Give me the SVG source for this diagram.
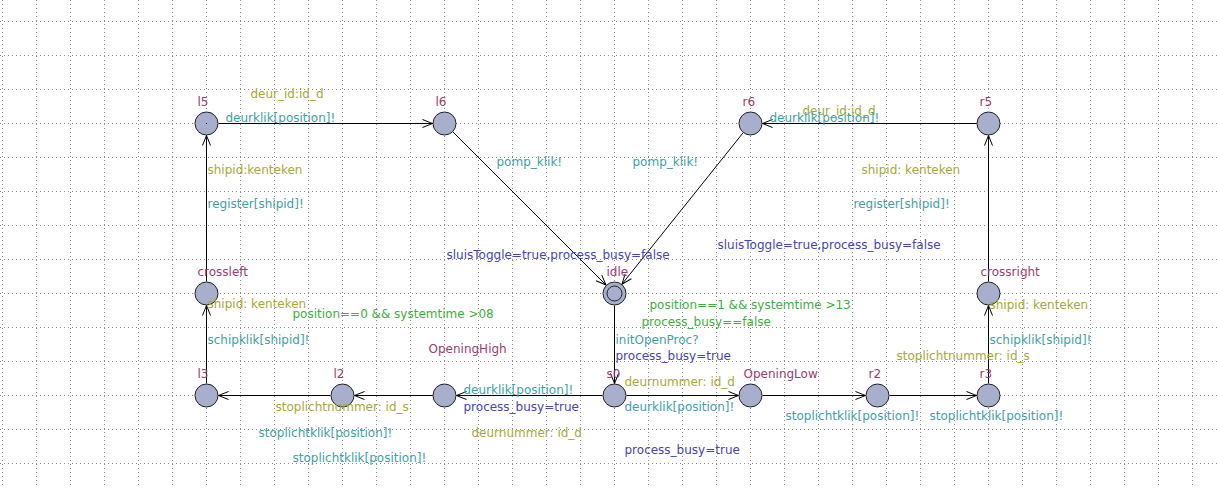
<svg xmlns="http://www.w3.org/2000/svg" width="1217" height="488" viewBox="0 0 1217 488">
<style>
text{font-family:"DejaVu Sans","Liberation Sans",sans-serif;font-size:12px}
.loc{fill:#a7afcc;stroke:#222;stroke-width:1}
.nm{fill:#993d6e}
.sel{fill:#a8a834}
.syn{fill:#3e9fa6}
.upd{fill:#4444b4}
.grd{fill:#3eae3e}
.e{stroke:#000;stroke-width:1;fill:none;marker-end:url(#ah)}
</style>
<defs>
<marker id="ah" markerUnits="userSpaceOnUse" markerWidth="14" markerHeight="12" viewBox="-12 -6 14 12" refX="0" refY="0" orient="auto">
<path d="M-10,-4 L0,0 L-10,4" fill="none" stroke="#000" stroke-width="1"/>
</marker>
</defs>
<rect width="1217" height="488" fill="#fff"/>
<path stroke="#8a8a8a" stroke-width="1" stroke-dasharray="1 3" fill="none" d="M2.5 0V488M36.5 0V488M70.5 0V488M104.5 0V488M138.5 0V488M172.5 0V488M206.5 0V488M240.5 0V488M274.5 0V488M308.5 0V488M342.5 0V488M376.5 0V488M410.5 0V488M444.5 0V488M478.5 0V488M512.5 0V488M546.5 0V488M580.5 0V488M614.5 0V488M648.5 0V488M682.5 0V488M716.5 0V488M750.5 0V488M784.5 0V488M818.5 0V488M852.5 0V488M886.5 0V488M920.5 0V488M954.5 0V488M988.5 0V488M1022.5 0V488M1056.5 0V488M1090.5 0V488M1124.5 0V488M1158.5 0V488M1192.5 0V488M0 21.5H1217M0 55.5H1217M0 89.5H1217M0 123.5H1217M0 157.5H1217M0 191.5H1217M0 225.5H1217M0 259.5H1217M0 293.5H1217M0 327.5H1217M0 361.5H1217M0 395.5H1217M0 429.5H1217M0 463.5H1217"/>
<g transform="translate(0.5 0.5)">
<g id="connectors">
<path class="e" d="M218,123H432"/>
<path class="e" d="M206,281V135"/>
<path class="e" d="M452.5,131.5L605.5,284.5"/>
<path class="e" d="M742.5,132.4L621.5,283.6"/>
<path class="e" d="M976,123H762"/>
<path class="e" d="M988,281V135"/>
<path class="e" d="M614,305V383"/>
<path class="e" d="M602,395H456"/>
<path class="e" d="M432,395H354"/>
<path class="e" d="M330,395H218"/>
<path class="e" d="M206,383V305"/>
<path class="e" d="M626,395H738"/>
<path class="e" d="M762,395H865"/>
<path class="e" d="M889,395H976"/>
<path class="e" d="M988,383V305"/>
</g>
<g id="l5"><circle class="loc" cx="206" cy="123" r="11.5"/><rect x="205.5" y="122.5" width="1" height="1" fill="#222"/><text class="nm" x="197" y="105">l5</text></g>
<g id="l6"><circle class="loc" cx="444" cy="123" r="11.5"/><text class="nm" x="435" y="105">l6</text></g>
<g id="r6"><circle class="loc" cx="750" cy="123" r="11.5"/><text class="nm" x="742" y="105">r6</text></g>
<g id="r5"><circle class="loc" cx="988" cy="123" r="11.5"/><text class="nm" x="979" y="105">r5</text></g>
<g id="crossleft"><circle class="loc" cx="206" cy="293" r="11.5"/><text class="nm" x="197" y="275">crossleft</text></g>
<g id="idle"><circle class="loc" cx="614" cy="293" r="11.5"/><circle class="loc" cx="614" cy="293" r="7.5"/><text class="nm" x="606" y="275">idle</text></g>
<g id="crossright"><circle class="loc" cx="988" cy="293" r="11.5"/><text class="nm" x="980" y="275">crossright</text></g>
<g id="l3"><circle class="loc" cx="206" cy="395" r="11.5"/><text class="nm" x="197" y="377">l3</text></g>
<g id="l2"><circle class="loc" cx="342" cy="395" r="11.5"/><text class="nm" x="333" y="377">l2</text></g>
<g id="OpeningHigh"><circle class="loc" cx="444" cy="395" r="11.5"/><text class="nm" x="428" y="352">OpeningHigh</text></g>
<g id="s0"><circle class="loc" cx="614" cy="395" r="11.5"/><text class="nm" x="606" y="377">s0</text></g>
<g id="OpeningLow"><circle class="loc" cx="750" cy="395" r="11.5"/><text class="nm" x="743" y="377">OpeningLow</text></g>
<g id="r2"><circle class="loc" cx="877" cy="395" r="11.5"/><text class="nm" x="868" y="377">r2</text></g>
<g id="r3"><circle class="loc" cx="988" cy="395" r="11.5"/><text class="nm" x="979" y="377">r3</text></g>
<g id="labels">
<text class="sel" x="250" y="97">deur_id:id_d</text>
<text class="syn" x="225" y="121">deurklik[position]!</text>
<text class="sel" x="207" y="173">shipid:kenteken</text>
<text class="syn" x="207" y="207">register[shipid]!</text>
<text class="syn" x="496" y="165">pomp_klik!</text>
<text class="syn" x="632" y="165">pomp_klik!</text>
<text class="sel" x="802" y="114">deur_id:id_d</text>
<text class="syn" x="769" y="121">deurklik[position]!</text>
<text class="sel" x="861" y="173">shipid: kenteken</text>
<text class="syn" x="853" y="207">register[shipid]!</text>
<text class="upd" x="717" y="248">sluisToggle=true,process_busy=false</text>
<text class="upd" x="446" y="258">sluisToggle=true,process_busy=false</text>
<text class="sel" x="207" y="307">shipid: kenteken</text>
<text class="grd" x="292" y="317">position==0 &amp;&amp; systemtime &gt;08</text>
<text class="syn" x="207" y="343">schipklik[shipid]!</text>
<text class="grd" x="649" y="308">position==1 &amp;&amp; systemtime &gt;13</text>
<text class="grd" x="641" y="325">process_busy==false</text>
<text class="syn" x="615" y="343">initOpenProc?</text>
<text class="upd" x="615" y="359">process_busy=true</text>
<text class="sel" x="989" y="308">shipid: kenteken</text>
<text class="syn" x="989" y="343">schipklik[shipid]!</text>
<text class="sel" x="896" y="359">stoplichtnummer: id_s</text>
<text class="syn" x="463" y="393">deurklik[position]!</text>
<text class="upd" x="463" y="410">process_busy=true</text>
<text class="sel" x="471" y="436">deurnummer: id_d</text>
<text class="sel" x="275" y="410">stoplichtnummer: id_s</text>
<text class="syn" x="258" y="436">stoplichtklik[position]!</text>
<text class="syn" x="292" y="461">stoplichtklik[position]!</text>
<text class="sel" x="624" y="385">deurnummer: id_d</text>
<text class="syn" x="624" y="410">deurklik[position]!</text>
<text class="upd" x="624" y="453">process_busy=true</text>
<text class="syn" x="785" y="419">stoplichtklik[position]!</text>
<text class="syn" x="929" y="419">stoplichtklik[position]!</text>
</g>
</g>
</svg>
